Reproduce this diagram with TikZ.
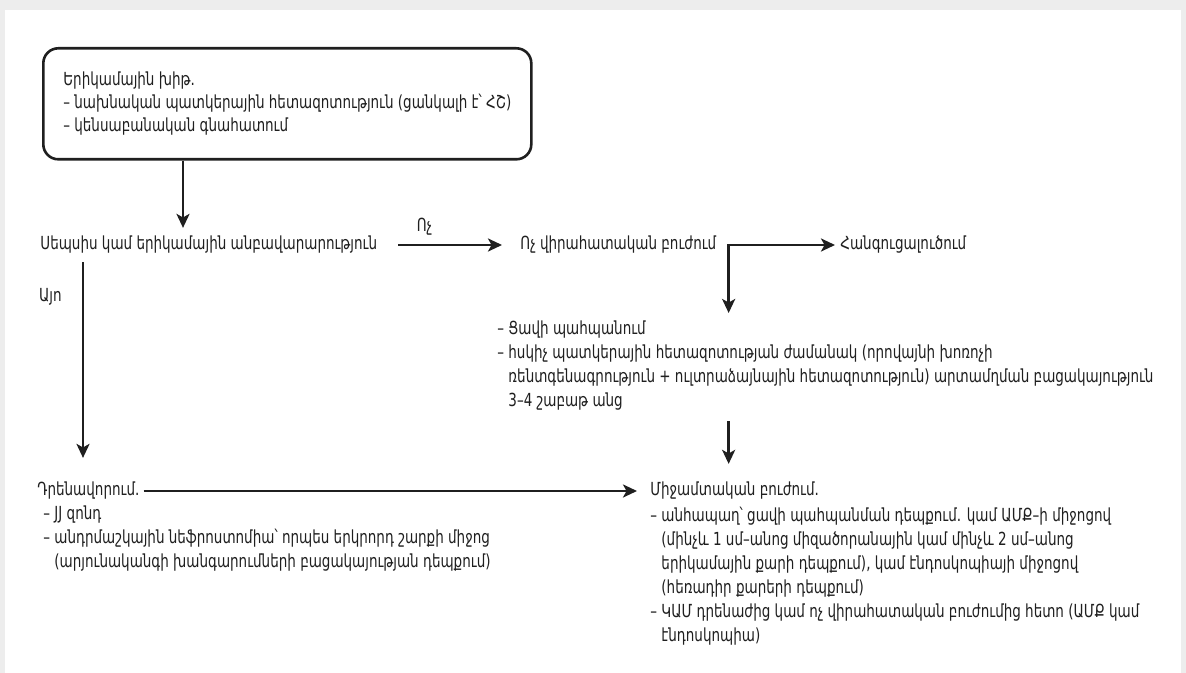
\documentclass[tikz,border=0pt]{standalone}
\usepackage{fontspec}
\setmainfont{DejaVu Sans}[FakeStretch=0.75]
\usetikzlibrary{positioning, arrows.meta}

\tikzset{
  txt/.style={inner sep=0pt, align=left, text=black!88, font=\fontsize{9}{12}\selectfont},
  arr/.style={draw=black!88, line width=1.3pt, -{Stealth[length=7pt, width=6.5pt, inset=1.8pt]}},
}
\newcommand{\ind}{\phantom{– }}

\begin{document}
\begin{tikzpicture}[x=0.5pt, y=-0.5pt]
    % Frame
    \fill[black!7] (0,0) rectangle (1186,673);
    \fill[white] (5,10) rectangle (1181,673);
    \useasboundingbox (0,0) rectangle (1186,673);

    % Start box
    \node[txt, draw=black!88, line width=1.3pt, rounded corners=7.5pt, anchor=north west,
          minimum width=244pt, minimum height=55.5pt, font=\fontsize{9}{11.5}\selectfont]
          (colic) at (42,47) {Երիկամային խիթ.\\
          – նախնական պատկերային հետազոտություն (ցանկալի է՝ ՀՇ)\\
          – կենսաբանական գնահատում};

    % First row
    \node[txt, anchor=west] (sepsis) at (40,245) {Սեպսիս կամ երիկամային անբավարարություն};
    \node[txt, anchor=west] (nonop) at (520,245) {Ոչ վիրահատական բուժում};
    \node[txt, anchor=west] (resol) at (840,245) {Հանգուցալուծում};

    % Follow-up
    \node[txt, anchor=north west] (maintain) at (497,320) {– Ցավի պահպանում\\
          – հսկիչ պատկերային հետազոտության ժամանակ (որովայնի խոռոչի\\
          \ind ռենտգենագրություն + ուլտրաձայնային հետազոտություն) արտամղման բացակայություն\\
          \ind 3–4 շաբաթ անց};

    % Drainage
    \node[txt, anchor=west] (drain) at (37,491) {Դրենավորում.};
    \node[txt, below right=2.5pt and 3pt of drain.south west] (drainlist) {– JJ զոնդ\\
          – անդրմաշկային նեֆրոստոմիա՝ որպես երկրորդ շարքի միջոց\\
          \ind(արյունականգի խանգարումների բացակայության դեպքում)};

    % Intervention
    \node[txt, anchor=west] (interv) at (650,491) {Միջամտական բուժում.};
    \node[txt, below right=3.5pt and 0pt of interv.south west] (intervlist) {– անհապաղ՝ ցավի պահպանման դեպքում. կամ ԱՄՔ–ի միջոցով\\
          \ind(մինչև 1 սմ–անոց միզածորանային կամ մինչև 2 սմ–անոց\\
          \ind երիկամային քարի դեպքում), կամ էնդոսկոպիայի միջոցով\\
          \ind(հեռադիր քարերի դեպքում)\\
          – ԿԱՄ դրենաժից կամ ոչ վիրահատական բուժումից հետո (ԱՄՔ կամ\\
          \ind էնդոսկոպիա)};

    % Connectors
    \coordinate (c1) at ([xshift=70.5pt]colic.south west);
    \draw[arr, shorten >=4pt] (c1) -- (c1 |- sepsis.north);
    \draw[arr, shorten <=10.5pt, shorten >=9pt] (sepsis) -- (nonop)
        node[txt, pos=0.33, above=4pt] (nolbl) {Ոչ};
    \coordinate (elbow) at ([xshift=6pt]nonop.east);
    \draw[arr, shorten >=2.5pt] ([xshift=-0.65pt]elbow) -- (resol.west);
    \draw[arr, shorten >=3.5pt] (elbow) -- (elbow |- maintain.north);
    \coordinate (yes) at ([xshift=21.5pt, yshift=-4pt]sepsis.south west);
    \draw[arr, shorten >=12pt] (yes) -- (yes |- drain.north)
        node[txt, pos=0.16, left=10pt] (yeslbl) {Այո};
    \draw[arr, shorten <=2pt, shorten >=6.5pt] (drain) -- (interv);
    \draw[arr, shorten <=5.5pt, shorten >=9pt] (elbow |- maintain.south) -- (elbow |- interv.north);
\end{tikzpicture}
\end{document}
